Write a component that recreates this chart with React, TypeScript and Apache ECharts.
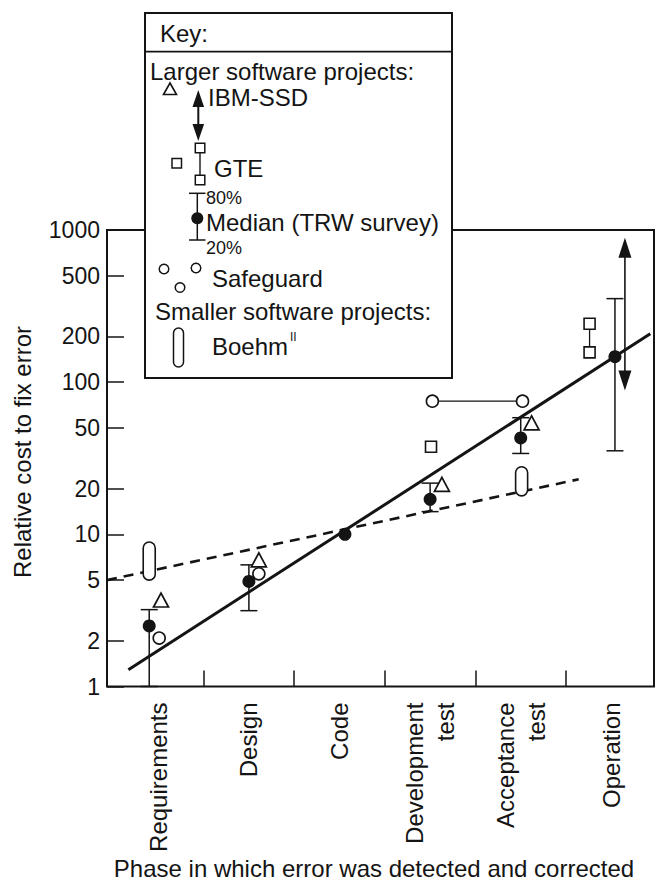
import React, { useEffect, useRef } from "react";
import * as echarts from "echarts";

// ---------- data ----------
const categories = ["Requirements", "Design", "Code", "Development\ntest", "Acceptance\ntest", "Operation"];
const yTickLabels = [1, 2, 5, 10, 20, 50, 100, 200, 500, 1000];
const xTickPositions = [0.5, 1.5, 2.5, 3.5, 4.5];
const xLabelPositions = [0, 1, 2, 3, 4, 5];

// Median (TRW survey) with 80% / 20% bounds
const medianX = [-0.1, 1.0, 2.06, 3.0, 4.0, 5.04];
const medianValues = [2.5, 4.9, 10, 17, 43, 147];
const median80 = [3.2, 6.3, null, 21.7, 58.4, 354];
const median20 = [1, 3.15, null, 14.1, 34, 35.4];

// IBM-SSD
const ibmX = [0.03, 1.11, 3.13, 4.12];
const ibmValues = [3.7, 6.8, 21.3, 54];
const ibmRangeX = [5.15];
const ibmRangeLow = [88];
const ibmRangeHigh = [890];

// GTE
const gteX = [3.01, 4.76, 4.76];
const gteValues = [37.6, 157, 242];

// Safeguard
const safeguardX = [0.01, 1.11, 3.025, 4.02];
const safeguardValues = [2.08, 5.5, 75, 75];

// Boehm (smaller software projects)
const boehmX = [-0.1, 4.01];
const boehmLow = [5.0, 17.9];
const boehmHigh = [8.9, 27.8];

// Trend lines
const largeTrendX = [-0.33, 5.43];
const largeTrendValues = [1.29, 208];
const smallTrendX = [-0.566, 4.64];
const smallTrendValues = [5.0, 23];

// ---------- helpers ----------
const ink = "#141414";
const font = "'Liberation Sans', Arial, Helvetica, sans-serif";
const lg = (v: number) => Math.round(Math.log10(v) * 1e6) / 1e6;
const pairs = (xs: number[], vs: number[]) => xs.map((x, i) => [x, lg(vs[i])]);

const errData = medianX
  .map((x, i) => (median80[i] == null ? null : [x, lg(median20[i] as number), lg(median80[i] as number)]))
  .filter((d) => d !== null);

const txt = (text: string, x: number, y: number, size = 24) => ({
  type: "text",
  x,
  y,
  z: 101,
  style: {
    text,
    fill: ink,
    fontSize: size,
    fontFamily: font,
    align: "left",
    verticalAlign: "middle",
    textAlign: "left",
    textVerticalAlign: "middle",
  },
});
const ln = (x1: number, y1: number, x2: number, y2: number, w = 1.5) => ({
  type: "line",
  z: 101,
  shape: { x1, y1, x2, y2 },
  style: { stroke: ink, lineWidth: w },
});

const keyElements: any[] = [
  { type: "rect", z: 100, shape: { x: 145, y: 13, width: 307, height: 365 }, style: { fill: "#fff", stroke: ink, lineWidth: 2 } },
  ln(145, 51.7, 452, 51.7, 1.8),
  txt("Key:", 160, 33),
  txt("Larger software projects:", 150, 71),
  { type: "polygon", z: 101, shape: { points: [[170, 83], [163.5, 94.5], [176.5, 94.5]] }, style: { fill: "none", stroke: ink, lineWidth: 1.6 } },
  ln(198.3, 102, 198.3, 129, 2),
  { type: "polygon", z: 101, shape: { points: [[198.3, 90], [192.5, 107], [204.1, 107]] }, style: { fill: ink } },
  { type: "polygon", z: 101, shape: { points: [[198.3, 141], [192.5, 124], [204.1, 124]] }, style: { fill: ink } },
  txt("IBM-SSD", 208, 97),
  { type: "rect", z: 101, shape: { x: 172, y: 158.5, width: 9.5, height: 9.5 }, style: { fill: "#fff", stroke: ink, lineWidth: 1.5 } },
  ln(200, 152.5, 200, 175.5, 1.4),
  { type: "rect", z: 101, shape: { x: 195.3, y: 143.3, width: 9.5, height: 9.5 }, style: { fill: "#fff", stroke: ink, lineWidth: 1.5 } },
  { type: "rect", z: 101, shape: { x: 195.3, y: 175.3, width: 9.5, height: 9.5 }, style: { fill: "#fff", stroke: ink, lineWidth: 1.5 } },
  txt("GTE", 214, 168),
  ln(197.3, 193.3, 197.3, 240, 1.5),
  ln(189, 193.3, 205.5, 193.3, 1.5),
  ln(189, 240, 205.5, 240, 1.5),
  { type: "circle", z: 101, shape: { cx: 197.3, cy: 218.3, r: 6 }, style: { fill: ink } },
  txt("80%", 206, 198, 18),
  txt("Median (TRW survey)", 206, 222.5),
  txt("20%", 206, 247.5, 18),
  { type: "circle", z: 101, shape: { cx: 164, cy: 269, r: 4.8 }, style: { fill: "none", stroke: ink, lineWidth: 1.5 } },
  { type: "circle", z: 101, shape: { cx: 180, cy: 287.5, r: 4.8 }, style: { fill: "none", stroke: ink, lineWidth: 1.5 } },
  { type: "circle", z: 101, shape: { cx: 196, cy: 268, r: 4.8 }, style: { fill: "none", stroke: ink, lineWidth: 1.5 } },
  txt("Safeguard", 212, 278),
  txt("Smaller software projects:", 155, 311),
  { type: "rect", z: 101, shape: { x: 173.5, y: 328, width: 10, height: 39, r: 5 }, style: { fill: "#fff", stroke: ink, lineWidth: 1.5 } },
  txt("Boehm", 212, 346),
  txt("II", 290, 337, 12),
];

const titleElements: any[] = [
  {
    type: "text",
    x: 22,
    y: 452,
    rotation: Math.PI / 2,
    style: {
      text: "Relative cost to fix error",
      fill: ink,
      fontSize: 24,
      fontFamily: font,
      align: "center",
      verticalAlign: "middle",
      textAlign: "center",
      textVerticalAlign: "middle",
    },
  },
  {
    type: "text",
    x: 374,
    y: 868,
    style: {
      text: "Phase in which error was detected and corrected",
      fill: ink,
      fontSize: 24,
      fontFamily: font,
      align: "center",
      verticalAlign: "middle",
      textAlign: "center",
      textVerticalAlign: "middle",
    },
  },
];

const option: any = {
  animation: false,
  backgroundColor: "#fff",
  textStyle: { fontFamily: font, color: ink },
  grid: {
    left: 107,
    top: 230,
    right: 2,
    bottom: 197.5,
    show: true,
    borderColor: ink,
    borderWidth: 2,
    backgroundColor: "transparent",
  },
  xAxis: {
    type: "value",
    min: -0.566,
    max: 5.471,
    axisLine: { show: false, onZero: false },
    splitLine: { show: false },
    axisTick: {
      show: true,
      inside: true,
      length: 16,
      customValues: xTickPositions,
      lineStyle: { color: ink, width: 1.5 },
    },
    axisLabel: {
      customValues: xLabelPositions,
      formatter: (v: number) => categories[Math.round(v)] ?? "",
      rotate: 90,
      margin: 16,
      fontSize: 24,
      lineHeight: 31,
      color: ink,
      fontFamily: font,
    },
  },
  yAxis: {
    type: "value",
    min: 0,
    max: 3,
    axisLine: { show: false, onZero: false },
    splitLine: { show: false },
    axisTick: {
      show: true,
      inside: true,
      length: 17,
      customValues: yTickLabels.map(lg),
      lineStyle: { color: ink, width: 1.5 },
    },
    axisLabel: {
      customValues: yTickLabels.map(lg),
      formatter: (v: number) => String(Math.round(Math.pow(10, v))),
      margin: 7,
      fontSize: 23,
      color: ink,
      fontFamily: font,
    },
  },
  graphic: { elements: [...titleElements, ...keyElements] },
  series: [
    {
      name: "Smaller projects trend",
      type: "line",
      data: pairs(smallTrendX, smallTrendValues),
      symbol: "none",
      lineStyle: { color: ink, width: 2.6, type: [10, 7] },
      z: 2,
    },
    {
      name: "Larger projects trend",
      type: "line",
      data: pairs(largeTrendX, largeTrendValues),
      symbol: "none",
      lineStyle: { color: ink, width: 3 },
      z: 2,
    },
    {
      name: "TRW 80%/20%",
      type: "custom",
      data: errData,
      encode: { x: 0, y: [1, 2] },
      z: 3,
      renderItem: (params: any, api: any) => {
        const x = api.value(0);
        const lo = api.coord([x, api.value(1)]);
        const hi = api.coord([x, api.value(2)]);
        const h = 8.5;
        const st = { stroke: ink, lineWidth: 1.5 };
        return {
          type: "group",
          children: [
            { type: "line", shape: { x1: lo[0], y1: lo[1], x2: hi[0], y2: hi[1] }, style: st },
            { type: "line", shape: { x1: hi[0] - h, y1: hi[1], x2: hi[0] + h, y2: hi[1] }, style: st },
            { type: "line", shape: { x1: lo[0] - h, y1: lo[1], x2: lo[0] + h, y2: lo[1] }, style: st },
          ],
        };
      },
    },
    {
      name: "Median (TRW survey)",
      type: "scatter",
      data: pairs(medianX, medianValues),
      symbol: "circle",
      symbolSize: 13,
      itemStyle: { color: ink, opacity: 1 },
      z: 4,
    },
    {
      name: "IBM-SSD range",
      type: "custom",
      data: ibmRangeX.map((x, i) => [x, lg(ibmRangeLow[i]), lg(ibmRangeHigh[i])]),
      encode: { x: 0, y: [1, 2] },
      z: 4,
      renderItem: (params: any, api: any) => {
        const x = api.value(0);
        const lo = api.coord([x, api.value(1)]);
        const hi = api.coord([x, api.value(2)]);
        const L = 20;
        const w = 6.5;
        return {
          type: "group",
          children: [
            { type: "line", shape: { x1: lo[0], y1: lo[1] - L + 2, x2: hi[0], y2: hi[1] + L - 2 }, style: { stroke: ink, lineWidth: 1.6 } },
            { type: "polygon", shape: { points: [[hi[0], hi[1]], [hi[0] - w, hi[1] + L], [hi[0] + w, hi[1] + L]] }, style: { fill: ink } },
            { type: "polygon", shape: { points: [[lo[0], lo[1]], [lo[0] - w, lo[1] - L], [lo[0] + w, lo[1] - L]] }, style: { fill: ink } },
          ],
        };
      },
    },
    {
      name: "IBM-SSD",
      type: "scatter",
      data: pairs(ibmX, ibmValues),
      symbol: "triangle",
      symbolSize: [15, 14],
      itemStyle: { color: "#fff", borderColor: ink, borderWidth: 1.7, opacity: 1 },
      z: 5,
    },
    {
      name: "GTE link",
      type: "line",
      data: pairs(gteX.slice(1), gteValues.slice(1)),
      symbol: "none",
      lineStyle: { color: ink, width: 1.3 },
      z: 4,
    },
    {
      name: "GTE",
      type: "scatter",
      data: pairs(gteX, gteValues),
      symbol: "rect",
      symbolSize: 11,
      itemStyle: { color: "#fff", borderColor: ink, borderWidth: 1.6, opacity: 1 },
      z: 5,
    },
    {
      name: "Safeguard link",
      type: "line",
      data: pairs(safeguardX.slice(2), safeguardValues.slice(2)),
      symbol: "none",
      lineStyle: { color: ink, width: 1.3 },
      z: 4,
    },
    {
      name: "Safeguard",
      type: "scatter",
      data: pairs(safeguardX, safeguardValues),
      symbol: "circle",
      symbolSize: 12,
      itemStyle: { color: "#fff", borderColor: ink, borderWidth: 1.6, opacity: 1 },
      z: 5,
    },
    {
      name: "Boehm",
      type: "custom",
      data: boehmX.map((x, i) => [x, lg(boehmLow[i]), lg(boehmHigh[i])]),
      encode: { x: 0, y: [1, 2] },
      z: 5,
      renderItem: (params: any, api: any) => {
        const x = api.value(0);
        const lo = api.coord([x, api.value(1)]);
        const hi = api.coord([x, api.value(2)]);
        const w = 12;
        return {
          type: "rect",
          shape: { x: hi[0] - w / 2, y: hi[1], width: w, height: lo[1] - hi[1], r: w / 2 },
          style: { fill: "#fff", stroke: ink, lineWidth: 1.6 },
        };
      },
    },
  ],
};

export default function App() {
  const ref = useRef<HTMLDivElement>(null);
  useEffect(() => {
    const chart = echarts.init(ref.current as HTMLDivElement, null, { renderer: "svg" });
    chart.setOption(option);
    return () => chart.dispose();
  }, []);
  return (
    <div
      ref={ref}
      style={{ position: "fixed", left: 0, top: 0, width: 656, height: 884, background: "#fff" }}
    />
  );
}
